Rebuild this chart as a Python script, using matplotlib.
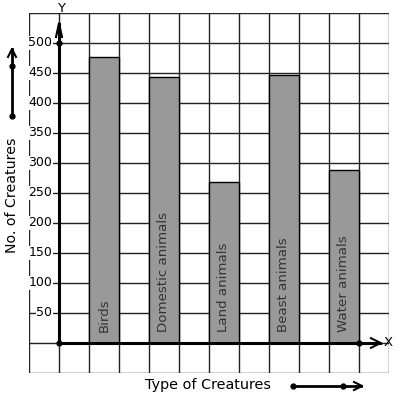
import matplotlib
matplotlib.use("Agg")
import matplotlib.pyplot as plt

categories = ["Birds", "Domestic animals", "Land animals", "Beast animals", "Water animals"]
values = [477, 443, 268, 447, 288]
yticks = [50, 100, 150, 200, 250, 300, 350, 400, 450, 500]
bar_pos = [1.5, 3.5, 5.5, 7.5, 9.5]

W, H = 397, 399
fig = plt.figure(figsize=(W / 100, H / 100), dpi=100)
ax = fig.add_axes([29 / W, (H - 373) / H, 360 / W, 360 / H])
ax.set_xlim(-1, 11)
ax.set_ylim(-50, 550)
for s in ax.spines.values():
    s.set_visible(False)
ax.set_xticks([])
ax.set_yticks([])

grid_c = "#222222"
for gx in range(-1, 12):
    ax.axvline(gx, color=grid_c, lw=1.0, zorder=1)
for gy in range(-50, 551, 50):
    ax.axhline(gy, color=grid_c, lw=1.0, zorder=1)

ax.bar(bar_pos, values, width=1.0, color="#999999", edgecolor="black", lw=1.0, zorder=2)
for x, lab in zip(bar_pos, categories):
    ax.text(x, 18, lab, rotation=90, ha="center", va="bottom", fontsize=9.6,
            color="#333333", zorder=3)

# axes arrows
ax.plot([0, 0], [0, 532], color="black", lw=2.2, zorder=4, clip_on=False)
ax.plot([-0.1, 0, 0.1], [510, 533, 510], color="black", lw=1.5, zorder=4, clip_on=False)
ax.plot([0, 10.7], [0, 0], color="black", lw=2.2, zorder=4, clip_on=False)
ax.plot([10.4, 10.72, 10.4], [8, 0, -8], color="black", lw=1.5, zorder=4, clip_on=False)
ax.plot([0, 0, 10], [0, 500, 0], "o", color="black", ms=3.5, zorder=5, clip_on=False)
ax.text(0.07, 557, "Y", ha="center", va="center", fontsize=9.5, zorder=5, clip_on=False)
ax.text(10.98, 0, "X", ha="center", va="center", fontsize=9.5, zorder=5, clip_on=False)

for v in yticks:
    ax.text(-0.22, v, str(v), ha="right", va="center", fontsize=9, zorder=5,
            bbox=dict(facecolor="white", edgecolor="none", pad=0.3))

# decorations in pixel coordinates
ov = fig.add_axes([0, 0, 1, 1])
ov.set_xlim(0, W)
ov.set_ylim(H, 0)
ov.axis("off")
ov.patch.set_alpha(0)
ov.plot([12, 12], [116, 49], color="black", lw=2, zorder=3)
ov.plot([8, 12, 16], [57, 49, 57], color="black", lw=1.5)
ov.plot([12, 12], [116, 66], "o", color="black", ms=3.5)
ov.text(12, 195, "No. of Creatures", rotation=90, ha="center", va="center", fontsize=10.2)
ov.text(145, 385, "Type of Creatures", ha="left", va="center", fontsize=10.4)
ov.plot([293, 361], [386, 386], color="black", lw=2)
ov.plot([354, 362, 354], [382, 386, 390], color="black", lw=1.5)
ov.plot([293, 343], [386, 386], "o", color="black", ms=3.5)

fig.savefig("out.png", dpi=100, facecolor="white")
